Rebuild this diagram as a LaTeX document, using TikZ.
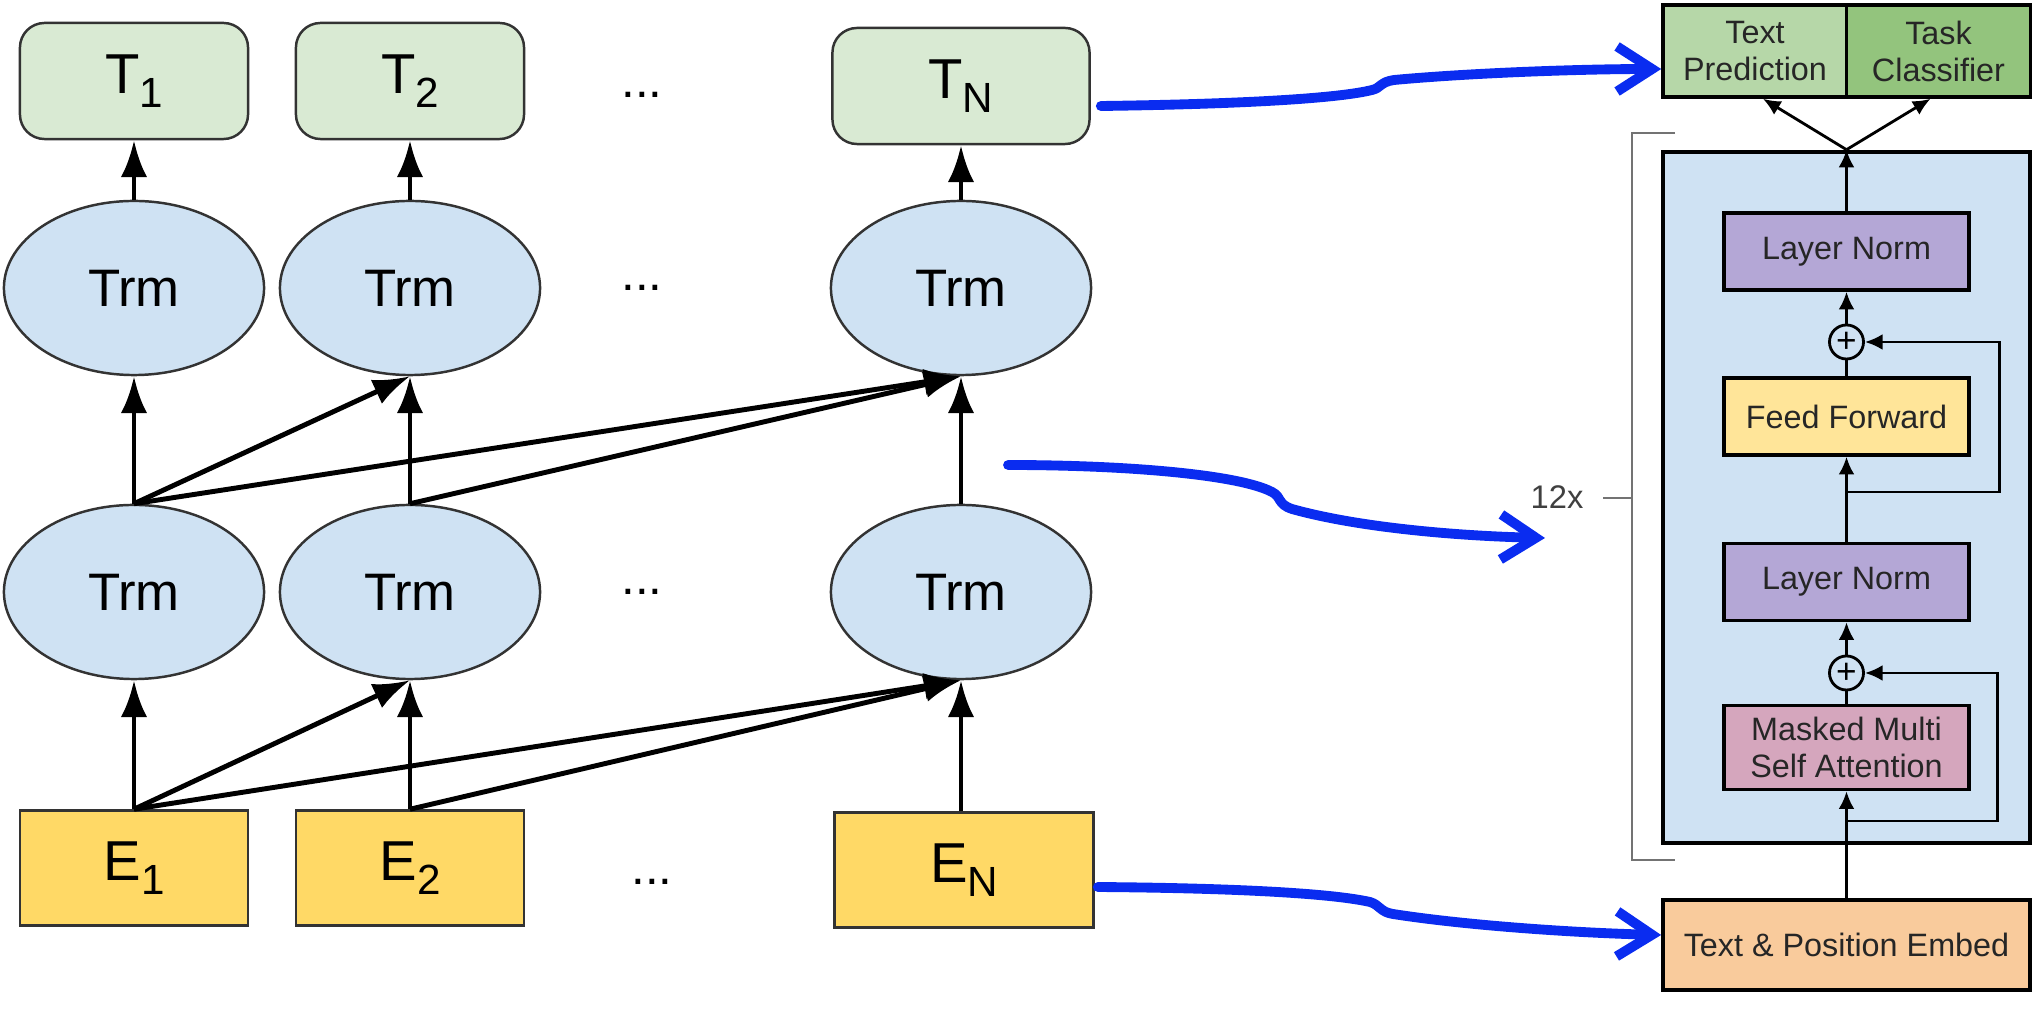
\documentclass[tikz,border=0pt]{standalone}
\usepackage{fontspec}
\setmainfont{Liberation Sans}
\usetikzlibrary{shapes.geometric,arrows.meta,positioning,calc}
\definecolor{TGreen}{HTML}{D9EAD3}
\definecolor{TrmBlue}{HTML}{CFE2F3}
\definecolor{EYellow}{HTML}{FFD966}
\definecolor{PredGreen}{HTML}{B6D7A8}
\definecolor{TaskGreen}{HTML}{93C47D}
\definecolor{NormPurple}{HTML}{B4A7D6}
\definecolor{FFYellow}{HTML}{FFE599}
\definecolor{AttnPink}{HTML}{D5A6BD}
\definecolor{EmbOrange}{HTML}{F9CB9C}
\definecolor{ArrBlue}{HTML}{0A2CF0}
\newcommand{\lowsub}[1]{\raisebox{-4pt}{\fontsize{12}{12}\selectfont #1}}
\tikzset{
  tokbox/.style={draw=black!80, fill=TGreen, rounded corners=7pt, line width=0.7pt,
    minimum width=2.28cm, minimum height=1.16cm, font=\fontsize{16}{16}\selectfont},
  trm/.style={ellipse, draw=black!80, fill=TrmBlue, line width=0.7pt, inner sep=0pt,
    minimum width=2.6cm, minimum height=1.74cm, font=\fontsize{15}{15}\selectfont},
  embbox/.style={draw=black!80, fill=EYellow, line width=0.7pt,
    minimum width=2.28cm, minimum height=1.15cm, font=\fontsize{16}{16}\selectfont},
  dots/.style={font=\fontsize{14}{14}\selectfont},
  flow/.style={-{Latex[length=10.5pt,width=7.5pt]}, line width=1.4pt},
  layer/.style={draw, line width=1pt, minimum width=2.45cm, minimum height=0.77cm,
    align=center, text=black!85, font=\fontsize{9.2}{10.5}\selectfont},
  addop/.style={circle, draw, line width=0.8pt, minimum size=0.34cm, inner sep=0pt,
    font=\fontsize{10}{10}\selectfont},
  plainln/.style={line width=0.8pt},
  sarrow/.style={-{Latex[length=5pt,width=4.5pt]}, line width=0.8pt},
  bigarrow/.style={draw=ArrBlue, line width=2.8pt, line cap=round,
    -{Straight Barb[length=0.35cm, width=0.45cm]}}
}
\begin{document}
\begin{tikzpicture}[x=0.01cm, y=-0.01cm]
  \useasboundingbox (0,0) rectangle (2038,1010);

  % left: stacked transformer
  \node[tokbox] (T1) at (134,81) {T\lowsub{1}};
  \node[tokbox] (T2) at (410,81) {T\lowsub{2}};
  \node[tokbox, minimum width=2.57cm] (TN) at (961,86) {T\lowsub{N}};
  \node[dots] (dT) at (642,95) {...};

  \node[trm] (Up1) at (134,288) {Trm};
  \node[trm] (Up2) at (410,288) {Trm};
  \node[trm] (UpN) at (961,288) {Trm};
  \node[dots] (dU) at (642,288) {...};

  \node[trm] (Lo1) at (134,592) {Trm};
  \node[trm] (Lo2) at (410,592) {Trm};
  \node[trm] (LoN) at (961,592) {Trm};
  \node[dots] (dL) at (642,592) {...};

  \node[embbox] (E1) at (134,868) {E\lowsub{1}};
  \node[embbox] (E2) at (410,868) {E\lowsub{2}};
  \node[embbox, minimum width=2.59cm] (EN) at (964,870) {E\lowsub{N}};
  \node[dots] (dE) at (652,882) {...};

  \draw[flow] (E1.north) -- (Lo1.south);
  \draw[flow] (E1.north) -- (Lo2.south);
  \draw[flow] (E1.north) -- (LoN.south);
  \draw[flow] (E2.north) -- (Lo2.south);
  \draw[flow] (E2.north) -- (LoN.south);
  \draw[flow] (EN.north -| LoN.south) -- (LoN.south);

  \draw[flow] (Lo1.north) -- (Up1.south);
  \draw[flow] (Lo1.north) -- (Up2.south);
  \draw[flow] (Lo1.north) -- (UpN.south);
  \draw[flow] (Lo2.north) -- (Up2.south);
  \draw[flow] (Lo2.north) -- (UpN.south);
  \draw[flow] (LoN.north) -- (UpN.south);

  \draw[flow] (Up1.north) -- (T1.south);
  \draw[flow] (Up2.north) -- (T2.south);
  \draw[flow] (UpN.north) -- (TN.south);

  % right: one decoder block
  \node[draw, line width=1.2pt, fill=TrmBlue, minimum width=3.67cm,
        minimum height=6.91cm] (block) at (1846.5,497.5) {};
  \node[layer, fill=PredGreen, minimum width=1.84cm, minimum height=0.92cm]
        (pred) at (1755,51) {Text\\Prediction};
  \node[layer, fill=TaskGreen, minimum width=1.84cm, minimum height=0.92cm]
        (task) at (1938.5,51) {Task\\Classifier};
  \node[layer, fill=NormPurple] (norm2) at (1846.5,251.5) {Layer Norm};
  \node[addop] (add2) at (1846.5,342) {+};
  \node[layer, fill=FFYellow] (ff) at (1846.5,416.5) {Feed Forward};
  \node[layer, fill=NormPurple] (norm1) at (1846.5,582) {Layer Norm};
  \node[addop] (add1) at (1846.5,673) {+};
  \node[layer, fill=AttnPink] (attn) at (1846.5,747.5) {Masked Multi\\Self Attention};
  \node[layer, fill=EmbOrange, minimum width=3.67cm, minimum height=0.9cm]
        (emb) at (1846.5,945) {Text \& Position Embed};

  \draw[sarrow] (emb.north) -- (attn.south);
  \draw[plainln] (attn.north) -- (add1.south);
  \draw[sarrow] (add1.north) -- (norm1.south);
  \coordinate (res1) at (1846.5,821);
  \draw[sarrow] (res1) -- ++(151,0) |- (add1.east);
  \draw[sarrow] (norm1.north) -- (ff.south);
  \coordinate (res2) at (1846.5,492);
  \draw[sarrow] (res2) -- ++(153,0) |- (add2.east);
  \draw[plainln] (ff.north) -- (add2.south);
  \draw[sarrow] (add2.north) -- (norm2.south);
  \draw[sarrow] (norm2.north) -- (block.north);
  \draw[sarrow] (block.north) -- ([xshift=0.08cm]pred.south);
  \draw[sarrow] (block.north) -- ([xshift=-0.08cm]task.south);

  % 12x bracket
  \draw[black!55, line width=0.6pt] (1675,133) -- (1632,133) -- (1632,860) -- (1675,860);
  \draw[black!55, line width=0.6pt] (1603,498) -- (1632,498);
  \node[text=black!75, font=\fontsize{9.3}{10}\selectfont] (rep) at (1557,497) {12x};

  % blue pointers
  \coordinate (midS) at (1008,465);
  \coordinate (midE) at (1545,538);
  \draw[bigarrow] ([xshift=0.1cm, yshift=-0.2cm]TN.east)
    .. controls (1250,104) and (1340,98) .. (1372,90)
    .. controls (1381,88) and (1380,82) .. (1394,80)
    .. controls (1470,73) and (1580,69) .. ([yshift=-0.18cm]pred.west);
  \draw[bigarrow] (midS)
    .. controls (1130,465) and (1240,475) .. (1272,492)
    .. controls (1282,497) and (1277,504) .. (1292,509)
    .. controls (1360,528) and (1460,536) .. (midE);
  \draw[bigarrow] ([xshift=0.03cm, yshift=-0.17cm]EN.east)
    .. controls (1230,888) and (1330,893) .. (1370,902)
    .. controls (1380,905) and (1380,912) .. (1393,914)
    .. controls (1470,926) and (1580,933) .. ([yshift=0.1cm]emb.west);
\end{tikzpicture}
\end{document}
